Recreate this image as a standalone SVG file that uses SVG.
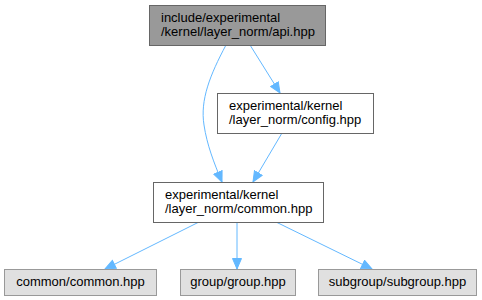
<svg xmlns="http://www.w3.org/2000/svg" width="482" height="300" viewBox="0 0 482 300">
  <style>
    text { font-family: "Liberation Sans", Arial, sans-serif; font-size: 13px; fill: #000000; }
    .main rect { fill: #999999; stroke: #666666; stroke-width: 1; }
    .file rect { fill: #ffffff; stroke: #666666; stroke-width: 1; }
    .ext rect { fill: #e0e0e0; stroke: #999999; stroke-width: 1; }
    .ext text { text-anchor: middle; }
    .edge { fill: none; stroke: #63b8ff; stroke-width: 1; marker-end: url(#arrow); }
  </style>
  <defs>
    <marker id="arrow" markerUnits="userSpaceOnUse" markerWidth="13" markerHeight="12" refX="11" refY="5" orient="auto">
      <path d="M0.5,0.5 L11,5 L0.5,9.5 z" fill="#63b8ff" stroke="#63b8ff" stroke-width="1"/>
    </marker>
  </defs>

  <g id="connectors">
    <path class="edge" d="M226,45 C210,75 200,100 204,125 C207,145 214,163 222,182"/>
    <path class="edge" d="M250,45 L280,93"/>
    <path class="edge" d="M282,133 L253,182"/>
    <path class="edge" d="M199,222 L105,269"/>
    <path class="edge" d="M237,222 L237,269"/>
    <path class="edge" d="M276,222 L372,269"/>
  </g>

  <g id="node_api" class="main">
    <rect x="149.5" y="5.5" width="176" height="40"/>
    <text x="161" y="22">include/experimental</text>
    <text x="161" y="36">/kernel/layer_norm/api.hpp</text>
  </g>

  <g id="node_config" class="file">
    <rect x="217.5" y="93.5" width="156" height="40"/>
    <text x="229" y="110">experimental/kernel</text>
    <text x="229" y="124">/layer_norm/config.hpp</text>
  </g>

  <g id="node_common" class="file">
    <rect x="153.5" y="182.5" width="170" height="40"/>
    <text x="165" y="199">experimental/kernel</text>
    <text x="165" y="213">/layer_norm/common.hpp</text>
  </g>

  <g id="node_common_common" class="ext">
    <rect x="4.5" y="269.5" width="152" height="26"/>
    <text x="80.5" y="286">common/common.hpp</text>
  </g>

  <g id="node_group" class="ext">
    <rect x="180.5" y="269.5" width="115" height="26"/>
    <text x="238" y="286">group/group.hpp</text>
  </g>

  <g id="node_subgroup" class="ext">
    <rect x="318.5" y="269.5" width="158" height="26"/>
    <text x="397.5" y="286">subgroup/subgroup.hpp</text>
  </g>
</svg>
